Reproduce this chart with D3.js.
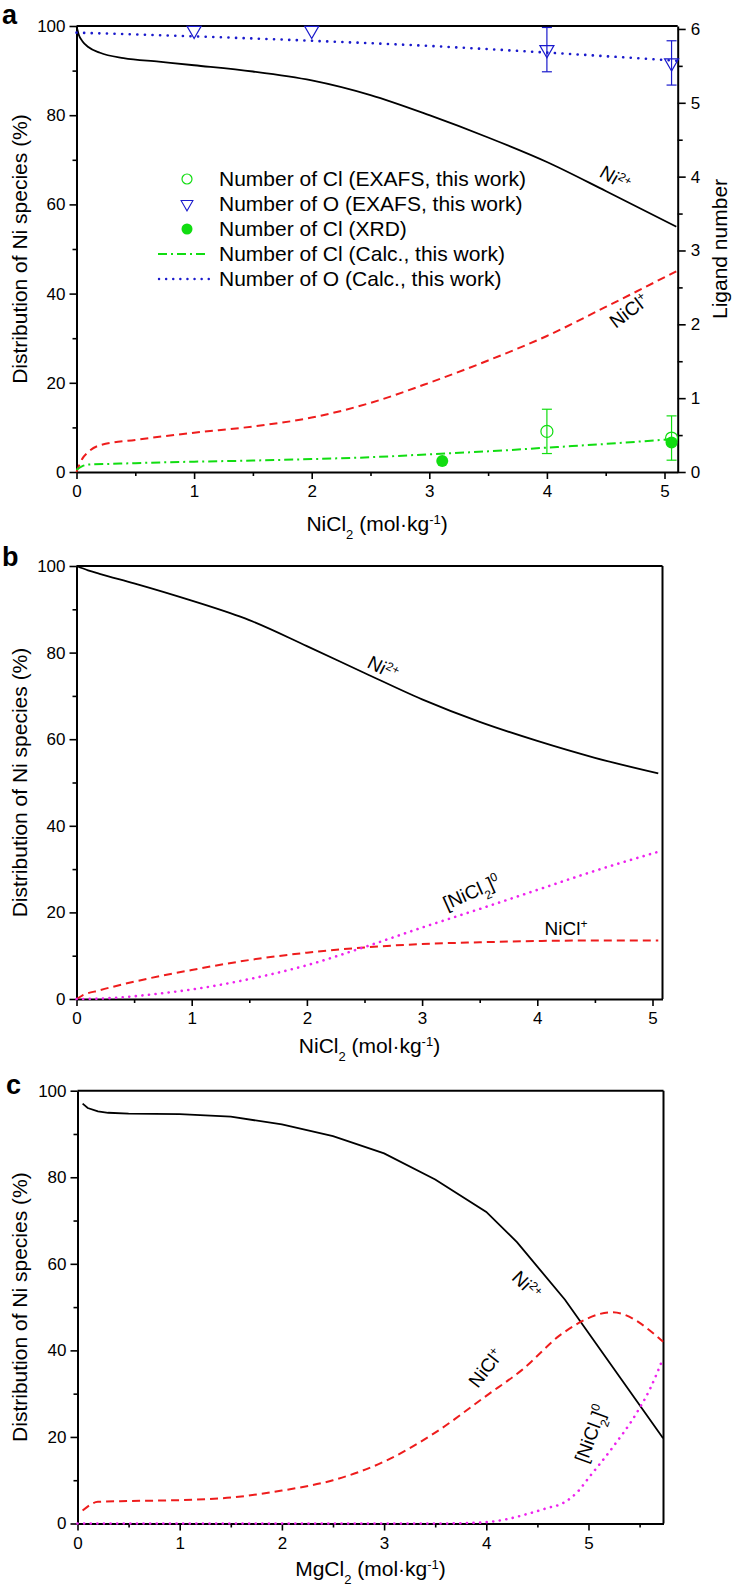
<!DOCTYPE html>
<html><head><meta charset="utf-8">
<script src="https://cdn.jsdelivr.net/npm/d3@7"></script>
<style>
body{margin:0;background:#fff}
text{font-family:"Liberation Sans",Arial,sans-serif;fill:#000}
</style>
</head><body>
<svg id="chart" width="733" height="1586"></svg>
<script>
// ---------- Panel a data ----------
const aNiX = [0,0.02,0.05,0.1,0.2,0.4,0.7,1,1.5,2,2.5,3,3.5,4,4.5,5.1];
const aNiY = [100,98,96.6,95.3,94,92.8,92,91.2,89.8,87.8,84.5,80,75,69.5,63,55];
const aNiClX = [0,0.05,0.1,0.2,0.5,1,1.5,2,2.5,3,3.5,4,4.5,5.1];
const aNiClY = [0,3,4.5,6,7.2,8.8,10.2,12.2,15.5,20,25,30.5,37,45];
const aOCalcX = [0,1,2,3,4,5.1];
const aOCalcY = [5.95,5.9,5.84,5.77,5.68,5.57];
const aClCalcX = [0,0.05,0.1,0.3,0.5,1,1.5,2,2.5,3,3.5,4,4.5,5.1];
const aClCalcY = [0.03,0.08,0.1,0.11,0.12,0.14,0.155,0.175,0.2,0.24,0.28,0.33,0.38,0.45];
const aOExafsX = [1,2,4,5.06];
const aOExafsY = [5.98,5.98,5.72,5.54];
const aOExafsErr = [0,0,0.3,0.3];
const aClExafsX = [4,5.06];
const aClExafsY = [0.55,0.46];
const aClExafsErr = [0.3,0.3];
const aClXrdX = [3.11,5.06];
const aClXrdY = [0.15,0.4];
const legendLabels = ["Number of Cl (EXAFS, this work)","Number of O (EXAFS, this work)","Number of Cl (XRD)","Number of Cl (Calc., this work)","Number of O (Calc., this work)"];

// ---------- Panel b data ----------
const bNiX = [0,0.1,0.2,0.5,1,1.5,2,2.5,3,3.5,4,4.5,5.05];
const bNiY = [100,99,98.2,96,92,87.5,81.5,75.3,69.2,64,59.6,55.7,52.1];
const bNiClX = [0,0.05,0.2,0.5,1,1.5,2,2.5,3,3.5,4,4.5,5.05];
const bNiClY = [0,0.8,2,4,6.7,9,10.7,11.9,12.7,13.1,13.4,13.5,13.5];
const bNiCl2X = [0,0.2,0.4,0.6,0.8,1,1.5,2,2.5,3,3.5,4,4.5,5.05];
const bNiCl2Y = [0,0.1,0.4,0.9,1.5,2.2,4.6,7.8,12,16.5,20.8,25.2,29.6,34];

// ---------- Panel c data ----------
const cNiX = [0.05,0.1,0.2,0.3,0.5,1,1.5,2,2.5,3,3.5,4,4.3,4.77,5.73];
const cNiY = [97,96,95.2,94.9,94.7,94.6,94,92.2,89.5,85.5,79.5,72,65,51.7,19.7];
const cNiClX = [0.05,0.2,0.5,1,1.5,2,2.5,3,3.5,4,4.35,4.75,5.23,5.73];
const cNiClY = [3,5,5.2,5.4,6,7.6,10,14.3,21,29.5,35.5,44,48.8,42];
const cNiCl2X = [0,1,2,3,3.5,3.8,4,4.2,4.43,4.6,4.75,4.9,5.0,5.24,5.47,5.6,5.73];
const cNiCl2Y = [0,0,0,0,0,0.1,0.3,1,2.4,3.6,4.7,7.5,10.5,17.7,25.5,31,38.2];

const yTicks = [0,20,40,60,80,100];
const yMinor = [10,30,50,70,90];
const xTicks = [0,1,2,3,4,5];
const xMinor = [0.5,1.5,2.5,3.5,4.5];
const xMinorC = [0.5,1.5,2.5,3.5,4.5,5.5];
const rTicks = [0,1,2,3,4,5,6];
const rMinor = [0.5,1.5,2.5,3.5,4.5,5.5];

const svg = d3.select("#chart");
const RED = "#ee1c1c", BLUE = "#1a1acc", GREEN = "#11dd11", MAG = "#ee22ee";
const NARROW = '"Liberation Sans Narrow","Arial Narrow","Liberation Sans",Arial,sans-serif';
const NORMAL = '"Liberation Sans",Arial,sans-serif';
const TICKFS = "17px", TITLEFS = "21px";

function zip(xs, ys){ return xs.map((v,i)=>[v, ys[i]]); }

function styleAxis(font){
  return (sel)=>{ sel.select(".domain").attr("stroke-width",2).attr("stroke","#000");
    sel.selectAll(".tick line").attr("stroke-width",1.6).attr("stroke","#000");
    sel.selectAll(".tick text").style("font-size",TICKFS).style("font-family",font).attr("fill","#000"); };
}

function axes(p, tickFont){
  const g = svg.append("g");
  const {x,y} = p;
  const st = styleAxis(tickFont);
  g.append("g").attr("transform",`translate(0,${p.b})`)
    .call(d3.axisBottom(x).tickValues(xTicks).tickSize(7).tickSizeOuter(0).tickPadding(6).tickFormat(d3.format("d"))).call(st);
  g.append("g").attr("transform",`translate(0,${p.b})`)
    .call(d3.axisBottom(x).tickValues(p.xMinor).tickSize(4).tickFormat("")).call(st).select(".domain").remove();
  g.append("g").attr("transform",`translate(${p.l},0)`)
    .call(d3.axisLeft(y).tickValues(yTicks).tickSize(7).tickSizeOuter(0).tickPadding(4).tickFormat(d3.format("d"))).call(st);
  g.append("g").attr("transform",`translate(${p.l},0)`)
    .call(d3.axisLeft(y).tickValues(yMinor).tickSize(4).tickFormat("")).call(st).select(".domain").remove();
  g.append("line").attr("x1",x.range()[0]).attr("x2",x.range()[1]).attr("y1",y(100)).attr("y2",y(100))
    .attr("stroke","#000").attr("stroke-width",2);
  if(!p.rightAxis){
    g.append("line").attr("x1",x.range()[1]).attr("x2",x.range()[1]).attr("y1",y(0)).attr("y2",y(100))
      .attr("stroke","#000").attr("stroke-width",2);
  }
}

function line(p, xs, ys, color, dash, width, yScale, curve){
  const ys2 = yScale || p.y;
  svg.append("path").datum(zip(xs,ys))
    .attr("d", d3.line().x(d=>p.x(d[0])).y(d=>ys2(d[1])).curve(curve||d3.curveMonotoneX))
    .attr("fill","none").attr("stroke",color).attr("stroke-width",width||2)
    .attr("stroke-dasharray",dash||null).attr("stroke-linecap", dash && dash.startsWith("0")?"round":"butt");
}

function label(x, y, ang, parts, size){
  const t = svg.append("text").attr("transform",`translate(${x},${y}) rotate(${ang})`)
    .attr("text-anchor","middle").style("font-size",(size||19)+"px");
  parts.forEach(pt=>{
    const s = t.append("tspan").text(pt[0]);
    if(pt[1]==="sup") s.attr("baseline-shift","super").style("font-size","12px");
    if(pt[1]==="sub") s.attr("baseline-shift","sub").style("font-size","12px");
  });
  return t;
}

function xTitle(p, name, y, font){
  const t = svg.append("text").attr("x",(p.l+p.r)/2).attr("y",y).attr("text-anchor","middle")
    .style("font-size",TITLEFS).style("font-family",font);
  t.append("tspan").text(name);
  t.append("tspan").text("2").attr("baseline-shift","sub").style("font-size","13px");
  t.append("tspan").text(" (mol·kg");
  t.append("tspan").text("-1").attr("baseline-shift","super").style("font-size","13px");
  t.append("tspan").text(")");
}

function yTitle(cx, cy, txt, rot){
  svg.append("text").attr("transform",`translate(${cx},${cy}) rotate(${rot})`).attr("text-anchor","middle")
    .style("font-size",TITLEFS).text(txt);
}

function panelLabel(txt, x, y){
  svg.append("text").attr("x",x).attr("y",y).style("font-size","27px").style("font-weight","bold").text(txt);
}

// ================= Panel a =================
const pa = {l:76.5, r:677.7, t:26, b:472, xMinor:xMinor, rightAxis:true};
pa.x = d3.scaleLinear().domain([0, (677.7-76.5)/117.6]).range([pa.l, pa.r]);
pa.y = d3.scaleLinear().domain([0,100]).range([pa.b, pa.t]);
const yR = d3.scaleLinear().domain([0,6.04]).range([pa.b, pa.t]);
axes(pa, NORMAL);
svg.append("g").attr("transform",`translate(${pa.r},0)`)
  .call(d3.axisRight(yR).tickValues(rTicks).tickSize(8).tickSizeOuter(0).tickPadding(5).tickFormat(d3.format("d"))).call(styleAxis(NORMAL));
svg.append("g").attr("transform",`translate(${pa.r},0)`)
  .call(d3.axisRight(yR).tickValues(rMinor).tickSize(5).tickFormat("")).call(styleAxis(NORMAL)).select(".domain").remove();

line(pa, aNiX, aNiY, "#000", null, 1.8);
line(pa, aNiClX, aNiClY, RED, "8,5", 2);
line(pa, aOCalcX, aOCalcY, BLUE, "0.1,7.5", 2.6, yR);
line(pa, aClCalcX, aClCalcY, GREEN, "9,4,2,4", 2, yR);

function errBars(xs, ys, es, color){
  xs.forEach((xv,i)=>{
    if(!es[i]) return;
    const cx = pa.x(xv), y1 = yR(Math.min(ys[i]+es[i], 6.04)), y2 = yR(ys[i]-es[i]);
    svg.append("line").attr("x1",cx).attr("x2",cx).attr("y1",y1).attr("y2",y2).attr("stroke",color).attr("stroke-width",1.2);
    [ys[i]+es[i], ys[i]-es[i]].forEach(v=>{ if(v<=6.04) svg.append("line").attr("x1",cx-5).attr("x2",cx+5).attr("y1",yR(v)).attr("y2",yR(v)).attr("stroke",color).attr("stroke-width",1.2);});
  });
}
errBars(aOExafsX, aOExafsY, aOExafsErr, BLUE);
errBars(aClExafsX, aClExafsY, aClExafsErr, GREEN);
const tri = d3.symbol().type(d3.symbolTriangle).size(85);
aOExafsX.forEach((xv,i)=>{
  svg.append("path").attr("d",tri()).attr("transform",`translate(${pa.x(xv)},${yR(aOExafsY[i])}) rotate(180)`)
    .attr("fill","none").attr("stroke",BLUE).attr("stroke-width",1.2);
});
aClXrdX.forEach((xv,i)=>{
  svg.append("circle").attr("cx",pa.x(xv)).attr("cy",yR(aClXrdY[i])).attr("r",6).attr("fill",GREEN);
});
aClExafsX.forEach((xv,i)=>{
  svg.append("circle").attr("cx",pa.x(xv)).attr("cy",yR(aClExafsY[i])).attr("r",6).attr("fill","none").attr("stroke",GREEN).attr("stroke-width",1.2);
});

// legend
{
  const ly0 = 179, dy = 25, sx = 187, tx = 219;
  legendLabels.forEach((lab,i)=>{
    svg.append("text").attr("x",tx).attr("y",ly0 + i*dy + 7).style("font-size",TITLEFS).text(lab);
  });
  svg.append("circle").attr("cx",sx).attr("cy",ly0).attr("r",5).attr("fill","none").attr("stroke",GREEN).attr("stroke-width",1.2);
  svg.append("path").attr("d",tri()).attr("transform",`translate(${sx},${ly0+dy}) rotate(180) scale(0.85)`).attr("fill","none").attr("stroke",BLUE).attr("stroke-width",1.2);
  svg.append("circle").attr("cx",sx).attr("cy",ly0+2*dy).attr("r",5.5).attr("fill",GREEN);
  svg.append("line").attr("x1",158).attr("x2",209).attr("y1",ly0+3*dy).attr("y2",ly0+3*dy).attr("stroke",GREEN).attr("stroke-width",2).attr("stroke-dasharray","9,4,2,4");
  svg.append("line").attr("x1",159).attr("x2",209).attr("y1",ly0+4*dy).attr("y2",ly0+4*dy).attr("stroke",BLUE).attr("stroke-width",2.4).attr("stroke-dasharray","0.1,7").attr("stroke-linecap","round");
}
label(612, 184, 30, [["Ni"],["2+","sup"]]);
label(633, 316, -37, [["NiCl"],["+","sup"]]);
xTitle(pa, "NiCl", 531, NORMAL);
yTitle(27, (pa.t+pa.b)/2, "Distribution of Ni species (%)", -90);
yTitle(727, (pa.t+pa.b)/2, "Ligand number", -90);
panelLabel("a", 2, 24);

// ================= Panel b =================
const pb = {l:76.5, r:662.5, t:566, b:999, xMinor:xMinor};
pb.x = d3.scaleLinear().domain([0,(662.5-76.5)/115.2]).range([pb.l,pb.r]);
pb.y = d3.scaleLinear().domain([0,100]).range([pb.b,pb.t]);
axes(pb, NARROW);
line(pb, bNiX, bNiY, "#000", null, 1.8);
line(pb, bNiClX, bNiClY, RED, "8,5", 2);
line(pb, bNiCl2X, bNiCl2Y, MAG, "0.1,6.5", 2.6);
label(380, 674, 27, [["Ni"],["2+","sup"]]);
label(474, 898, -24, [["[NiCl"],["2","sub"],["]"],["0","sup"]]);
label(566, 935, 0, [["NiCl"],["+","sup"]]);
xTitle(pb, "NiCl", 1053, NORMAL);
yTitle(27, (pb.t+pb.b)/2, "Distribution of Ni species (%)", -90);
panelLabel("b", 2, 566);

// ================= Panel c =================
const pc = {l:77.5, r:663.5, t:1090.7, b:1523.5, xMinor:xMinorC};
pc.x = d3.scaleLinear().domain([0,(663.5-77.5)/102.2]).range([pc.l,pc.r]);
pc.y = d3.scaleLinear().domain([0,100]).range([pc.b,pc.t]);
axes(pc, NARROW);
line(pc, cNiX, cNiY, "#000", null, 1.8, null, d3.curveLinear);
line(pc, cNiClX, cNiClY, RED, "8,5", 2, null, d3.curveMonotoneX);
line(pc, cNiCl2X, cNiCl2Y, MAG, "0.1,6.5", 2.6, null, d3.curveMonotoneX);
label(522, 1290, 45, [["Ni"],["2+","sup"]]);
label(491, 1372, -52, [["NiCl"],["+","sup"]]);
label(597, 1436, -70, [["[NiCl"],["2","sub"],["]"],["0","sup"]]);
xTitle(pc, "MgCl", 1576, NARROW);
yTitle(27, (pc.t+pc.b)/2, "Distribution of Ni species (%)", -90);
panelLabel("c", 6, 1094);
</script>
</body></html>
